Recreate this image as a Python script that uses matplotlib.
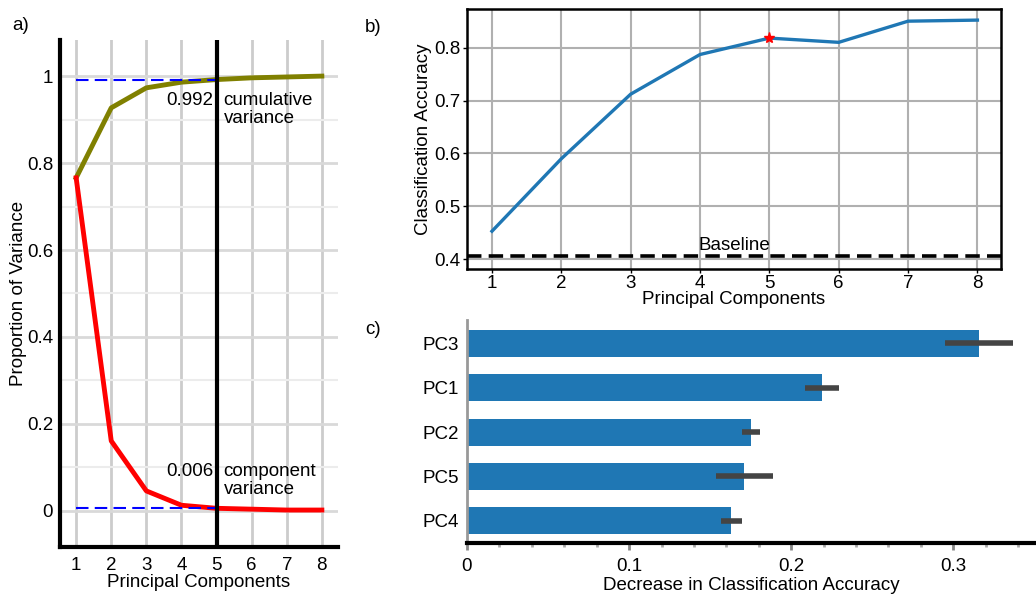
import matplotlib
matplotlib.use("Agg")
import matplotlib.pyplot as plt
import numpy as np
from matplotlib.ticker import MultipleLocator

plt.rcParams['font.family'] = ['Liberation Sans', 'DejaVu Sans']
FS = 13.5
plt.rcParams['font.size'] = FS

# ---- data ----
components = [1, 2, 3, 4, 5, 6, 7, 8]
cumulative_var = [0.766, 0.927, 0.973, 0.986, 0.992, 0.996, 0.998, 1.0]
component_var = [0.766, 0.161, 0.046, 0.013, 0.006, 0.004, 0.002, 0.002]
chosen_k = 5
chosen_cum = 0.992
chosen_comp = 0.006

accuracy = [0.453, 0.590, 0.712, 0.787, 0.818, 0.810, 0.850, 0.852]
baseline = 0.4057

pc_labels = ['PC3', 'PC1', 'PC2', 'PC5', 'PC4']
importance = [0.316, 0.219, 0.175, 0.171, 0.163]
importance_err = [0.021, 0.0105, 0.0055, 0.0175, 0.0065]

W, H = 1036, 596
fig = plt.figure(figsize=(W / 100, H / 100), dpi=100)

def rect(l, t, r, b):
    return [l / W, 1 - b / H, (r - l) / W, (b - t) / H]

# ---- panel a ----
axa = fig.add_axes(rect(60, 40, 338, 547))
axa.set_xlim(0.54, 8.46)
axa.set_ylim(-0.083, 1.083)
axa.yaxis.set_minor_locator(MultipleLocator(0.1))
axa.set_xticks(components)
axa.set_yticks([0, 0.2, 0.4, 0.6, 0.8, 1.0])
axa.set_yticklabels(['0', '0.2', '0.4', '0.6', '0.8', '1'])
axa.grid(True, axis='x', which='major', color='#cccccc', lw=2, zorder=0)
axa.grid(True, axis='y', which='major', color='#d9d9d9', lw=2, zorder=0)
axa.grid(True, axis='y', which='minor', color='#ececec', lw=1.5, zorder=0)
axa.tick_params(which='both', length=0, labelsize=FS)
axa.tick_params(axis='y', pad=5)
axa.tick_params(axis='x', pad=7)
for s in ['top', 'right']:
    axa.spines[s].set_visible(False)
axa.spines['left'].set_linewidth(3)
axa.spines['bottom'].set_linewidth(3)
axa.plot(components, cumulative_var, color='#808000', lw=3.5, zorder=3)
axa.plot(components, component_var, color='red', lw=3.5, zorder=3)
axa.plot([components[0], chosen_k], [chosen_cum, chosen_cum], color='blue', ls='--', lw=1.5, dashes=(6, 3), zorder=4)
axa.plot([components[0], chosen_k], [chosen_comp, chosen_comp], color='blue', ls='--', lw=1.5, dashes=(6, 3), zorder=4)
axa.axvline(chosen_k, color='black', lw=3, zorder=5)
axa.text(chosen_k - 0.09, 0.945, f'{chosen_cum:.3f}', ha='right', va='center', fontsize=FS)
axa.text(chosen_k + 0.2, 0.945, 'cumulative', ha='left', va='center', fontsize=FS)
axa.text(chosen_k + 0.2, 0.903, 'variance', ha='left', va='center', fontsize=FS)
axa.text(chosen_k - 0.09, 0.091, f'{chosen_comp:.3f}', ha='right', va='center', fontsize=FS)
axa.text(chosen_k + 0.2, 0.091, 'component', ha='left', va='center', fontsize=FS)
axa.text(chosen_k + 0.2, 0.049, 'variance', ha='left', va='center', fontsize=FS)
axa.set_xlabel('Principal Components', fontsize=FS, labelpad=0)
axa.set_ylabel('Proportion of Variance', fontsize=FS, labelpad=0)
fig.text(12 / W, 1 - 25 / H, 'a)', fontsize=FS, ha='left', va='center')

# ---- panel b ----
axb = fig.add_axes(rect(467, 9, 1001, 269))
axb.set_xlim(0.64, 8.34)
axb.set_ylim(0.3816, 0.873)
axb.set_xticks(components)
axb.set_yticks([0.4, 0.5, 0.6, 0.7, 0.8])
axb.grid(True, color='#b0b0b0', lw=1.5, zorder=0)
for s in axb.spines.values():
    s.set_linewidth(1.8)
axb.tick_params(length=3, width=1, labelsize=FS)
axb.tick_params(axis='y', pad=1.5)
axb.tick_params(axis='x', pad=1.5)
axb.plot(components, accuracy, color='#1f77b4', lw=2.4, zorder=3)
axb.plot([chosen_k], [accuracy[chosen_k - 1]], marker='*', color='red', ms=8, zorder=4)
axb.axhline(baseline, color='black', ls='--', lw=2.6, dashes=(4, 2), zorder=4)
axb.text(4.5, baseline + 0.004, 'Baseline', ha='center', va='bottom', fontsize=FS)
axb.set_xlabel('Principal Components', fontsize=FS, labelpad=-1)
axb.set_ylabel('Classification Accuracy', fontsize=FS, labelpad=2)
fig.text(365 / W, 1 - 28 / H, 'b)', fontsize=FS, ha='left', va='center')

# ---- panel c ----
axc = fig.add_axes(rect(467, 320, 1036, 543))
ypos = np.arange(len(pc_labels))
axc.barh(ypos, importance, height=0.61, color='#1f77b4', zorder=2)
axc.errorbar(importance, ypos, xerr=importance_err, fmt='none', ecolor='#444444', elinewidth=4, capsize=0, zorder=3)
axc.set_yticks(ypos)
axc.set_yticklabels(pc_labels)
axc.set_ylim(4.5, -0.53)
axc.set_xlim(0, 0.351)
axc.xaxis.set_minor_locator(MultipleLocator(0.02))
axc.set_xticks([0, 0.1, 0.2, 0.3])
axc.set_xticklabels(['0', '0.1', '0.2', '0.3'])
for s in ['top', 'right']:
    axc.spines[s].set_visible(False)
axc.spines['left'].set_color('#999999')
axc.spines['left'].set_linewidth(2)
axc.spines['bottom'].set_linewidth(3)
axc.tick_params(axis='y', length=0, labelsize=FS, pad=6)
axc.tick_params(axis='x', which='major', length=5, width=2, color='#888888', labelsize=FS, pad=6)
axc.tick_params(axis='x', which='minor', length=3, width=2, color='#aaaaaa')
axc.set_xlabel('Decrease in Classification Accuracy', fontsize=FS, labelpad=1)
fig.text(365 / W, 1 - 330 / H, 'c)', fontsize=FS, ha='left', va='center')

fig.savefig('out.png', dpi=100)
